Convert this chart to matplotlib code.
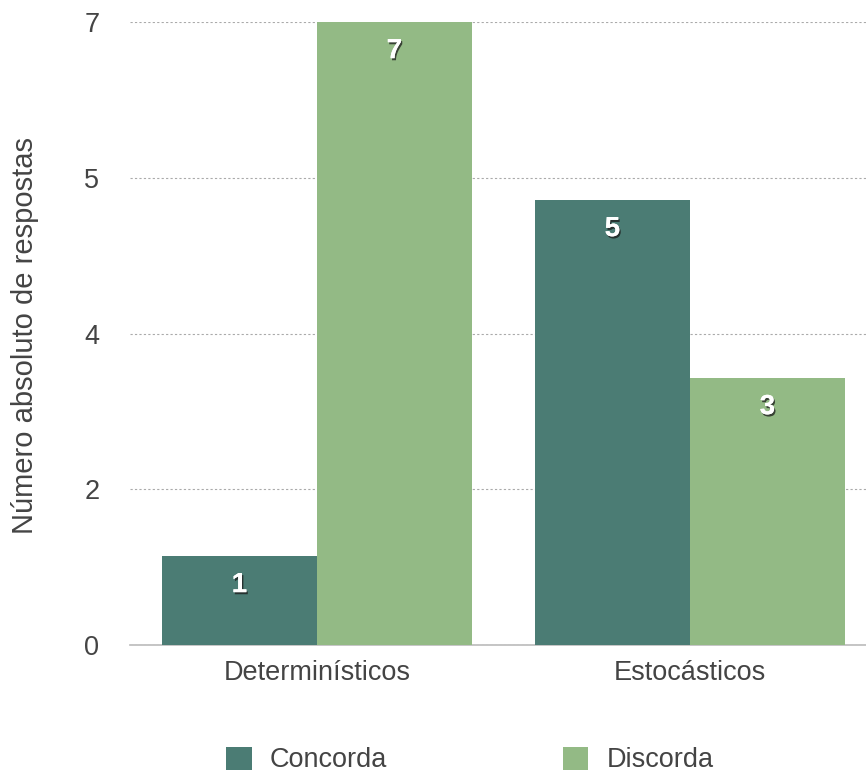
import matplotlib
matplotlib.use("Agg")
import matplotlib.pyplot as plt
import matplotlib.patheffects as pe
from matplotlib.patches import Patch
import numpy as np

categories = ["Determinísticos", "Estocásticos"]
series_names = ["Concorda", "Discorda"]
concorda = [1, 5]
discorda = [7, 3]
ytick_values = [0, 1.75, 3.5, 5.25, 7]
ytick_labels = ["0", "2", "4", "5", "7"]
ylabel = "Número absoluto de respostas"

colors = ["#4B7C74", "#93BA85"]
font = "Liberation Sans"
plt.rcParams['font.family'] = [font, 'DejaVu Sans']

fig = plt.figure(figsize=(8.66, 7.74), dpi=100)
ax = fig.add_axes([130/866, 1-645/774, 1-130/866, (645-22)/774])

x = np.arange(len(categories))
w = 0.4155
bars1 = ax.bar(x - w/2, concorda, width=w, color=colors[0], zorder=3)
bars2 = ax.bar(x + w/2, discorda, width=w, color=colors[1], zorder=3)

for bars, vals in [(bars1, concorda), (bars2, discorda)]:
    for b, v in zip(bars, vals):
        t = ax.annotate(str(v), (b.get_x() + b.get_width()/2, v),
                        xytext=(0, -21), textcoords="offset points",
                        ha="center", va="center", color="white",
                        fontsize=20, fontweight="bold", zorder=5)
        t.set_path_effects([pe.withSimplePatchShadow(offset=(1, -1.5), shadow_rgbFace="#1a1a1a", alpha=0.75),
                            pe.Normal()])

ax.set_xlim(-0.501, 1.472)
ax.set_ylim(0, 7)
ax.set_yticks(ytick_values)
ax.set_yticklabels(ytick_labels)
ax.set_xticks(x)
ax.set_xticklabels(categories)
ax.tick_params(axis="both", length=0, labelsize=19.5, colors="#444444")
ax.tick_params(axis="y", pad=22)
ax.tick_params(axis="x", pad=11)
for s in ["top", "right", "left"]:
    ax.spines[s].set_visible(False)
ax.spines["bottom"].set_color("#BBBBBB")
ax.spines["bottom"].set_linewidth(1.2)
ax.grid(axis="y", linestyle=(0, (2, 2)), color="#AAAAAA", linewidth=0.8, zorder=0)
ax.set_axisbelow(True)

fig.text(25/866, 1-335/774, ylabel, rotation=90, ha="center", va="center",
         fontsize=21, color="#444444")

handles = [Patch(facecolor=colors[0]), Patch(facecolor=colors[1])]
fig.legend(handles, series_names, loc="center", bbox_to_anchor=(470/866, 1-760/774),
           ncol=2, frameon=False, fontsize=19.5, handlelength=0.93, handleheight=0.93,
           handletextpad=0.67, columnspacing=6.5, labelcolor="#444444")

fig.savefig("out.png", dpi=100)
